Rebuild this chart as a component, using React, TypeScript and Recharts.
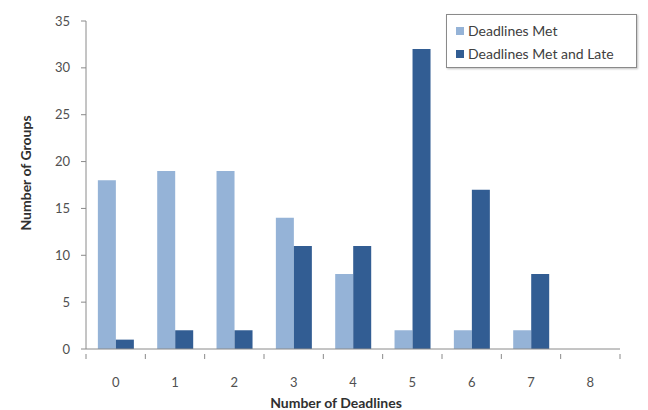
import React from "react";
import { BarChart, Bar, XAxis, YAxis, Label } from "recharts";

const deadlines = ["0", "1", "2", "3", "4", "5", "6", "7", "8"];
const metValues = [18, 19, 19, 14, 8, 2, 2, 2, 0];
const metLateValues = [1, 2, 2, 11, 11, 32, 17, 8, 0];
const yTicks = [0, 5, 10, 15, 20, 25, 30, 35];

const data = deadlines.map((d, i) => ({
  name: d,
  met: metValues[i],
  metLate: metLateValues[i],
}));

const LIGHT = "#95B3D7";
const DARK = "#325D93";
const AXIS = "#8a8a8a";
const FONT = "Lato, 'Open Sans', sans-serif";

const CHART_W = 648;
const CHART_H = 410;
const MARGIN = { top: 21, right: 28, bottom: 0, left: 0 };
const Y_AXIS_W = 86;
const HALF_BAND = (CHART_W - MARGIN.right - Y_AXIS_W) / deadlines.length / 2;

function XTick(props: any) {
  const { x, y, payload, index } = props;
  return (
    <g>
      {index === 0 && (
        <line x1={x - HALF_BAND} x2={x - HALF_BAND} y1={y - 24} y2={y - 19} stroke={AXIS} />
      )}
      <line x1={x + HALF_BAND} x2={x + HALF_BAND} y1={y - 24} y2={y - 19} stroke={AXIS} />
      <text x={x} y={y} dy="0.71em" textAnchor="middle" fill="#505050" fontSize={13} fontFamily={FONT}>
        {payload.value}
      </text>
    </g>
  );
}

function LegendBox() {
  const items = [
    { label: "Deadlines Met", color: LIGHT },
    { label: "Deadlines Met and Late", color: DARK },
  ];
  return (
    <div
      style={{
        position: "absolute",
        left: 446,
        top: 14,
        width: 191,
        height: 54,
        boxSizing: "border-box",
        border: "1px solid #8a8a8a",
        padding: "4px 0 0 9px",
        background: "#fff",
        fontFamily: FONT,
        fontSize: 14,
        color: "#404040",
        boxShadow: "1px 1px 2px rgba(0,0,0,0.25)",
      }}
    >
      {items.map((it) => (
        <div key={it.label} style={{ display: "flex", alignItems: "center", height: 23, whiteSpace: "nowrap" }}>
          <span style={{ width: 8, height: 8, background: it.color, marginRight: 4, display: "inline-block" }} />
          {it.label}
        </div>
      ))}
    </div>
  );
}

export default function App() {
  return (
    <div style={{ position: "absolute", left: 0, top: 0, width: CHART_W, height: CHART_H, background: "#fff" }}>
      <BarChart
        width={CHART_W}
        height={CHART_H}
        data={data}
        margin={MARGIN}
        barCategoryGap="20%"
        barGap={0}
      >
        <XAxis
          dataKey="name"
          height={61}
          stroke={AXIS}
          tickLine={false}
          tickMargin={23}
          tick={<XTick />}
          interval={0}
        >
          <Label
            value="Number of Deadlines"
            position="insideBottom"
            offset={0}
            dx={-17}
            dy={-2}
            style={{ fontFamily: FONT, fontSize: 14, fontWeight: 700, fill: "#303030" }}
          />
        </XAxis>
        <YAxis
          width={Y_AXIS_W}
          domain={[0, 35]}
          ticks={yTicks}
          interval={0}
          stroke={AXIS}
          tickSize={5}
          tickMargin={11}
          tick={{ fill: "#505050", fontSize: 13, fontFamily: FONT }}
        >
          <Label
            value="Number of Groups"
            angle={-90}
            position="insideLeft"
            dx={21}
            dy={-12}
            style={{ fontFamily: FONT, fontSize: 14, fontWeight: 700, fill: "#303030", textAnchor: "middle" }}
          />
        </YAxis>
        <Bar dataKey="met" name="Deadlines Met" fill={LIGHT} isAnimationActive={false} />
        <Bar dataKey="metLate" name="Deadlines Met and Late" fill={DARK} isAnimationActive={false} />
      </BarChart>
      <LegendBox />
    </div>
  );
}
